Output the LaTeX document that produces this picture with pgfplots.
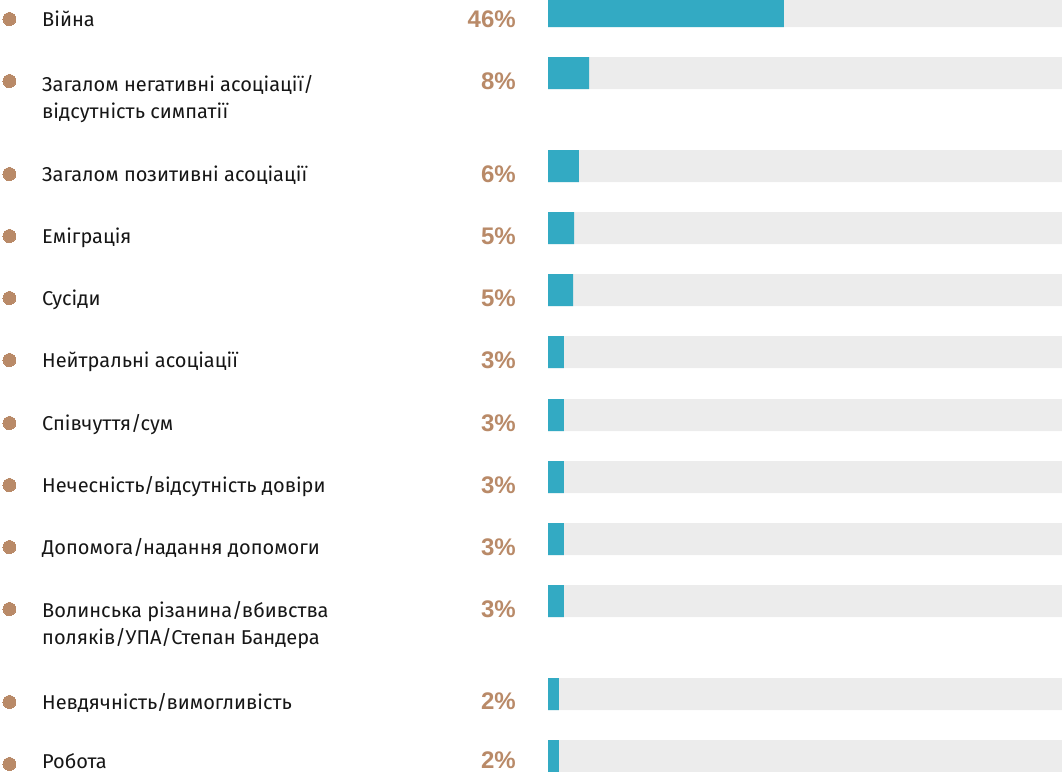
\documentclass[border=0pt]{standalone}
\usepackage{pgfplots}
\pgfplotsset{compat=1.18}
\usepackage{fontspec}
\setmainfont{Fira Sans}
\newfontfamily\pctfont{Liberation Sans}
\definecolor{barblue}{HTML}{33AAC3}
\definecolor{track}{HTML}{ECECEC}
\definecolor{tan}{HTML}{B98A68}
\definecolor{txt}{HTML}{161616}
\begin{document}
\begin{tikzpicture}
\begin{axis}[
  width=1062pt, height=772pt, scale only axis,
  hide axis,
  xmin=-106.615, xmax=100,
  ymin=0, ymax=772, y dir=reverse,
]
% grey tracks (100%)
\addplot[xbar, bar shift=0pt, bar width=32pt, fill=track, draw=none] coordinates {
 (100,11) (100,73) (100,166) (100,228) (100,290) (100,352)
 (100,415) (100,477) (100,539) (100,601) (100,694) (100,756)};
% values (%)
\addplot[xbar, bar shift=0pt, bar width=32pt, fill=barblue, draw=none] coordinates {
 (45.9,11) (8.0,73) (6.0,166) (5.1,228) (4.9,290) (3.1,352)
 (3.1,415) (3.1,477) (3.1,539) (3.1,601) (2.1,694) (2.1,756)};
% bullets
\addplot[only marks, mark=*, mark size=6.5pt, color=tan, fill=tan, mark options={draw=tan, fill=tan, line width=0pt}] coordinates {
 (-104.77,19) (-104.77,81) (-104.77,174) (-104.77,236) (-104.77,298) (-104.77,360)
 (-104.77,423) (-104.77,485) (-104.77,547) (-104.77,609) (-104.77,702) (-104.77,764)};
% labels
\begin{scope}[every node/.style={anchor=base west, inner sep=0pt, text=txt, font=\fontsize{20}{24}\selectfont}]
\node at (axis cs:-98.44,26) {Війна};
\node at (axis cs:-98.44,91) {Загалом негативні асоціації/};
\node at (axis cs:-98.44,118) {відсутність симпатії};
\node at (axis cs:-98.44,181) {Загалом позитивні асоціації};
\node at (axis cs:-98.44,243) {Еміграція};
\node at (axis cs:-98.44,305) {Сусіди};
\node at (axis cs:-98.44,367) {Нейтральні асоціації};
\node at (axis cs:-98.44,430) {Співчуття/сум};
\node at (axis cs:-98.44,492) {Нечесність/відсутність довіри};
\node at (axis cs:-98.44,554) {Допомога/надання допомоги};
\node at (axis cs:-98.44,617) {Волинська різанина/вбивства};
\node at (axis cs:-98.44,644) {поляків/УПА/Степан Бандера};
\node at (axis cs:-98.44,709) {Невдячність/вимогливість};
\node at (axis cs:-98.44,768) {Робота};
\end{scope}
% percentages
\begin{scope}[every node/.style={anchor=base east, inner sep=0pt, text=tan, font=\pctfont\bfseries\fontsize{24}{28}\selectfont}]
\node at (axis cs:-6.23,27) {46\%};
\node at (axis cs:-6.23,89) {8\%};
\node at (axis cs:-6.23,182) {6\%};
\node at (axis cs:-6.23,244) {5\%};
\node at (axis cs:-6.23,306) {5\%};
\node at (axis cs:-6.23,368) {3\%};
\node at (axis cs:-6.23,431) {3\%};
\node at (axis cs:-6.23,493) {3\%};
\node at (axis cs:-6.23,555) {3\%};
\node at (axis cs:-6.23,617) {3\%};
\node at (axis cs:-6.23,709) {2\%};
\node at (axis cs:-6.23,768) {2\%};
\end{scope}
\end{axis}
\pgfresetboundingbox
\path[use as bounding box] (current axis.south west) rectangle (current axis.north east);
\end{tikzpicture}
\end{document}
